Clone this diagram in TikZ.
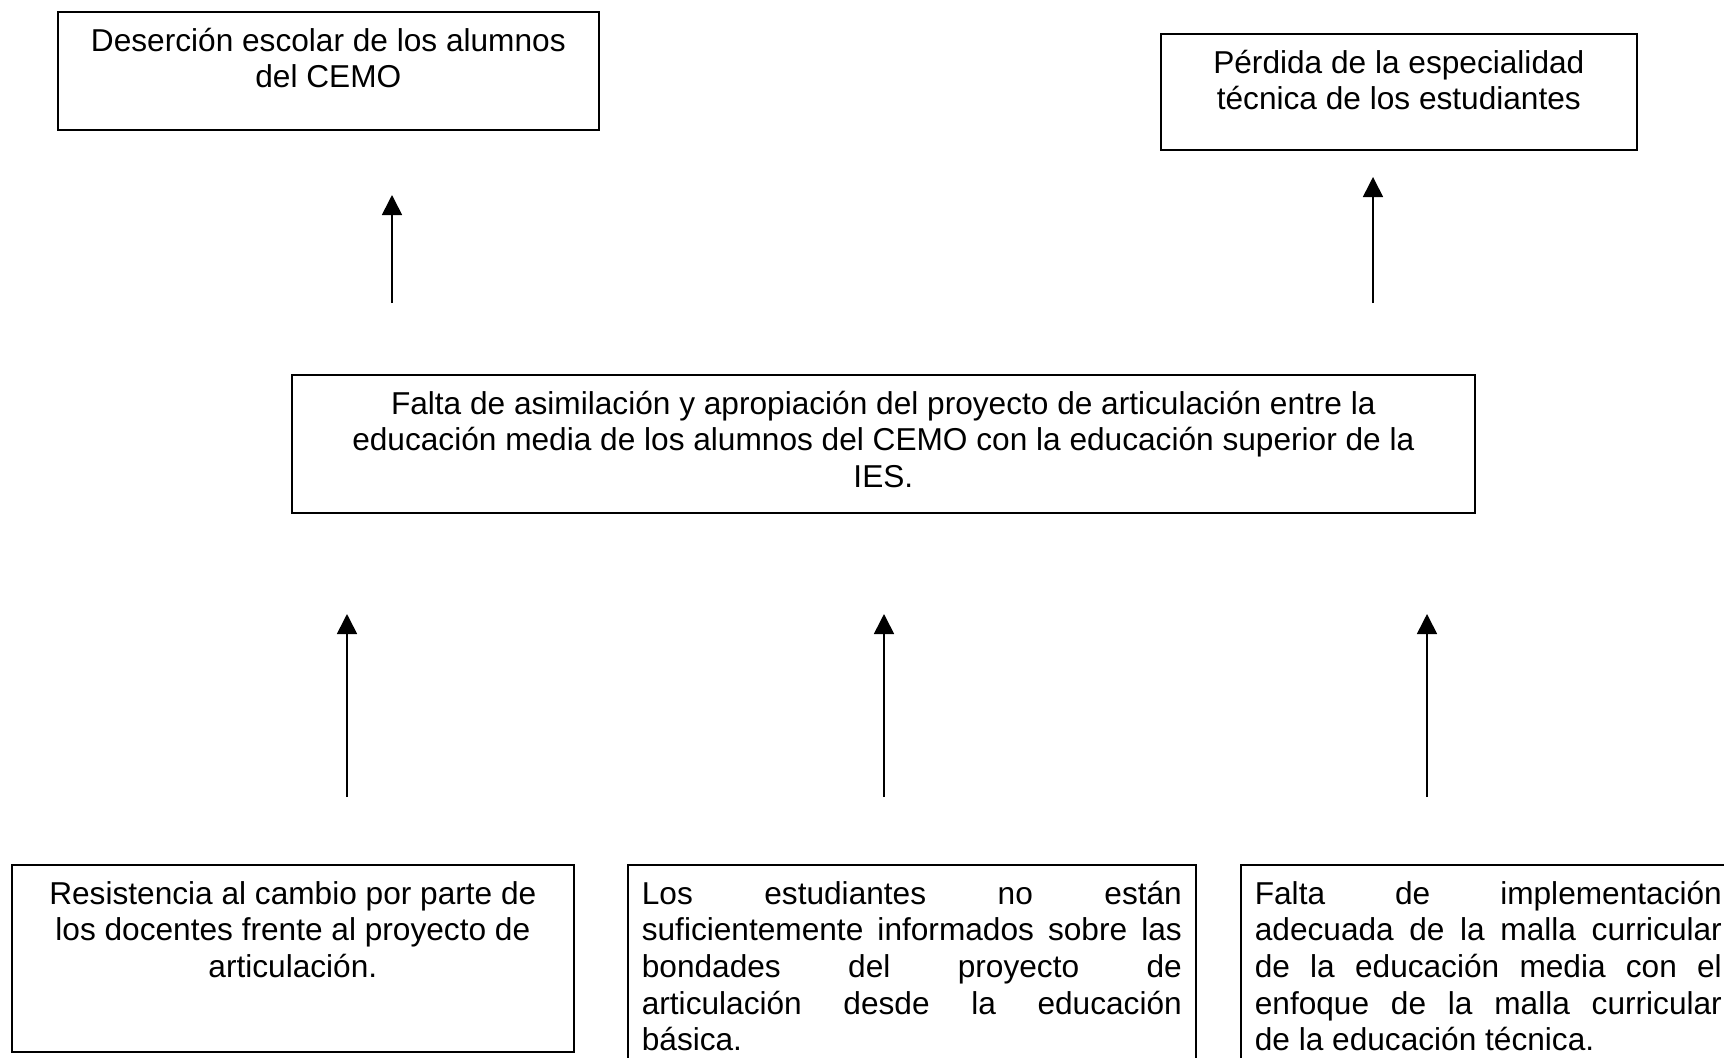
\documentclass[tikz,border=0pt]{standalone}
\usepackage{fontspec}
\setmainfont{Liberation Sans}
\usetikzlibrary{%
  positioning
 ,arrows.meta
}
\tikzstyle{caja}=[rectangle,draw=black,line width=0.7pt,inner sep=0.21cm,anchor=north west]
\tikzstyle{flecha}=[-{Triangle[length=0.3cm,width=0.3cm]},line width=0.7pt]
\newcommand{\letra}{\fontsize{13.5pt}{15.6pt}\selectfont}
\newcommand{\cajatexto}[4]{\parbox[c][#2][t]{#1}{\letra#3\strut #4}}
\newcommand{\just}[1]{\makebox[\hsize][s]{#1}\\}
\begin{document}
\begin{tikzpicture}[x=0.015cm,y=-0.015cm]
  \useasboundingbox (0,0) rectangle (1724,1058);
  % efectos
  \node[caja] (efecto_1) at (57,11) {\cajatexto{7.695cm}{1.35cm}{\centering}{Deserción escolar de los alumnos\\del CEMO}};
  \node[caja] (efecto_2) at (1160,33) {\cajatexto{6.72cm}{1.32cm}{\centering}{Pérdida de la especialidad\\técnica de los estudiantes}};
  % problema central
  \node[caja] (problema) at (291,374) {\cajatexto{17.325cm}{1.65cm}{\centering}{Falta de asimilación y apropiación del proyecto de articulación entre la\\educación media de los alumnos del CEMO con la educación superior de la\\IES.}};
  % causas
  \node[caja] (causa_1) at (11,864) {\cajatexto{8.01cm}{2.385cm}{\centering}{Resistencia al cambio por parte de\\los docentes frente al proyecto de\\articulación.}};
  \node[caja] (causa_2) at (627,864) {\cajatexto{8.1cm}{2.88cm}{\raggedright}{\just{Los estudiantes no están}\just{suficientemente informados sobre las}\just{bondades del proyecto de}\just{articulación desde la educación}básica.}};
  \node[caja] (causa_3) at (1240,864) {\cajatexto{7.005cm}{2.88cm}{\raggedright}{\just{Falta de implementación}\just{adecuada de la malla curricular}\just{de la educación media con el}\just{enfoque de la malla curricular}de la educación técnica.}};
  \coordinate (f_1a) at (392,303); \coordinate (f_1b) at (392,195);
  \coordinate (f_2a) at (1373,303); \coordinate (f_2b) at (1373,177);
  \coordinate (f_3a) at (347,797); \coordinate (f_3b) at (347,614);
  \coordinate (f_4a) at (884,797); \coordinate (f_4b) at (884,614);
  \coordinate (f_5a) at (1427,797); \coordinate (f_5b) at (1427,614);
  \foreach \i in {1,...,5}
    \draw[flecha] (f_\i a) -- (f_\i b);
\end{tikzpicture}
\end{document}
